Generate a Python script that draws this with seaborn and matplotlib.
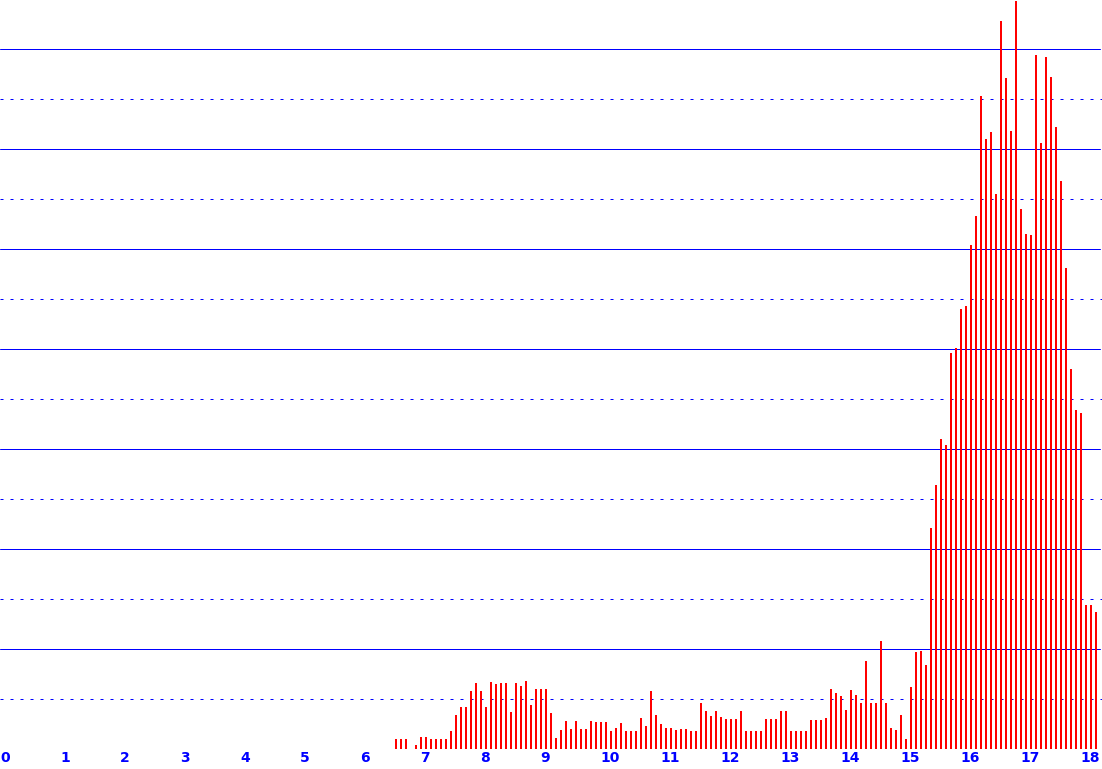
import numpy as np
import pandas as pd
import matplotlib
matplotlib.use("Agg")
import matplotlib.pyplot as plt
import matplotlib.transforms as mtransforms
import seaborn as sns

# Datos: un bin por mes (edad en meses), desde 78 meses (6.5 anios) hasta 218
meses = list(range(78, 219))

# Alturas (unidades = una linea de la grilla)
alturas = [
    0.19, 0.19, 0.19, 0.00, 0.07, 0.23, 0.23, 0.19, 0.19, 0.19,
    0.19, 0.35, 0.67, 0.83, 0.83, 1.15, 1.31, 1.15, 0.83, 1.33,
    1.29, 1.31, 1.31, 0.73, 1.31, 1.25, 1.35, 0.87, 1.19, 1.19,
    1.19, 0.71, 0.21, 0.37, 0.55, 0.39, 0.55, 0.39, 0.39, 0.55,
    0.53, 0.53, 0.53, 0.35, 0.41, 0.51, 0.35, 0.35, 0.35, 0.61,
    0.45, 1.15, 0.67, 0.49, 0.41, 0.41, 0.37, 0.39, 0.39, 0.35,
    0.35, 0.91, 0.75, 0.65, 0.75, 0.63, 0.59, 0.59, 0.59, 0.75,
    0.35, 0.35, 0.35, 0.35, 0.59, 0.59, 0.59, 0.75, 0.75, 0.35,
    0.35, 0.35, 0.35, 0.57, 0.57, 0.57, 0.61, 1.19, 1.11, 1.05,
    0.77, 1.17, 1.07, 0.91, 1.75, 0.91, 0.91, 2.15, 0.91, 0.41,
    0.37, 0.67, 0.19, 1.23, 1.93, 1.95, 1.67, 4.42, 5.28, 6.20,
    6.08, 7.91, 8.02, 8.80, 8.86, 10.08, 10.65, 13.06, 12.19, 12.33,
    11.10, 14.56, 13.42, 12.35, 14.95, 10.79, 10.30, 10.27, 13.87, 12.12,
    13.83, 13.44, 12.44, 11.36, 9.61, 7.59, 6.78, 6.72, 2.88, 2.88,
    2.74,
]

etiquetas_x = [str(i) for i in range(19)]

azul = "#0000FF"
rojo = "#FF0000"

df = pd.DataFrame({"meses": meses, "altura": alturas})
df["x"] = df["meses"] / 12 + 1 / 30

sns.set_style("white")
W, H = 1102, 769
fig = plt.figure(figsize=(W / 100, H / 100), dpi=100)
ax = fig.add_axes([0, 20.5 / H, 1, 748.5 / H])

# Grilla: lineas solidas en pares, punteadas en impares
for v in range(1, 15):
    if v % 2 == 0:
        ax.axhline(v, color=azul, lw=0.72, zorder=1, xmax=1100 / W)
    else:
        ax.axhline(v, color=azul, lw=0.72, zorder=1, xmax=1102 / W,
                   linestyle=(0, (3, 7)))

sns.barplot(data=df, x="x", y="altura", native_scale=True, width=0.4,
            color=rojo, saturation=1, errorbar=None, linewidth=0,
            ax=ax, zorder=2)

ax.axhline(0, color=azul, lw=0.72, zorder=3)

ax.set_xlim(-4 / 60, (W - 4) / 60)
ax.set_ylim(0, 748.5 / 50)
ax.set_yticks([])
ax.set_xticks(range(19))
ax.set_xticklabels(etiquetas_x, color=azul, fontsize=10, fontweight="bold",
                   ha="left")
ax.tick_params(axis="x", length=0, pad=2)
offset = mtransforms.ScaledTranslation(-4 / 100, 0, fig.dpi_scale_trans)
for lab in ax.get_xticklabels():
    lab.set_transform(lab.get_transform() + offset)
ax.set_xlabel("")
ax.set_ylabel("")
for s in ax.spines.values():
    s.set_visible(False)

fig.savefig("out.png", dpi=100)
